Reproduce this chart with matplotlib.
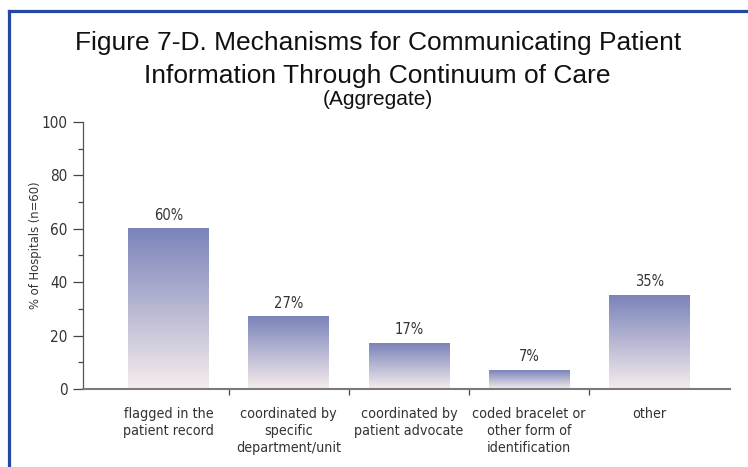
import matplotlib
matplotlib.use("Agg")
import matplotlib.pyplot as plt
import numpy as np
from matplotlib.lines import Line2D
from matplotlib.colors import LinearSegmentedColormap
from matplotlib import font_manager

categories = ["flagged in the\npatient record",
              "coordinated by\nspecific\ndepartment/unit",
              "coordinated by\npatient advocate",
              "coded bracelet or\nother form of\nidentification",
              "other"]
values = [60, 27, 17, 7, 35]
yticks = [0, 20, 40, 60, 80, 100]


def wnum(w):
    if isinstance(w, int):
        return w
    return font_manager.weight_dict.get(w, 400)


# pick a regular-weight condensed face if one is installed
cond = [f for f in font_manager.fontManager.ttflist
        if (f.stretch in ("condensed", "semi-condensed") or "Narrow" in f.name
            or "Condensed" in f.name)
        and f.style == "normal" and 300 <= wnum(f.weight) <= 400
        and "Mono" not in f.name]
cond.sort(key=lambda f: abs(wnum(f.weight) - 400))
if cond:
    narrow_fp = font_manager.FontProperties(fname=cond[0].fname)
else:
    narrow_fp = font_manager.FontProperties(family="Liberation Sans")
plain = ["Liberation Sans", "DejaVu Sans"]


def nfp(size):
    fp = narrow_fp.copy()
    fp.set_size(size)
    return fp


fig = plt.figure(figsize=(7.48, 4.67), dpi=100)
ax = fig.add_axes([0.111, 0.167, 0.865, 0.572])

x = np.arange(len(values))
bars = ax.bar(x, values, width=0.67, color="none", edgecolor="none")

# vertical gradient inside each bar
cmap = LinearSegmentedColormap.from_list("bar", ["#f5ecec", "#7b84ba"])
grad = np.linspace(0, 1, 256).reshape(-1, 1)
for b in bars:
    x0, y0 = b.get_x(), b.get_y()
    ax.imshow(grad, cmap=cmap, origin="lower", aspect="auto",
              extent=[x0, x0 + b.get_width(), y0, y0 + b.get_height()],
              zorder=2)

for xi, v in zip(x, values):
    ax.text(xi, v + 2.3, f"{v}%", ha="center", va="bottom",
            fontproperties=nfp(10.5), color="#333333")

ax.set_xlim(-0.71, 4.67)
ax.set_ylim(0, 100)

ax.set_yticks(yticks)
ax.set_yticks(np.arange(10, 100, 20), minor=True)
ax.tick_params(axis="y", which="major", length=7.2, width=0.9, color="#444444",
               labelcolor="#333333", pad=4)
ax.tick_params(axis="y", which="minor", length=3.6, width=0.9, color="#444444")
for lab in ax.get_yticklabels():
    lab.set_fontproperties(nfp(11))

ax.set_xticks(x)
ax.set_xticklabels(categories)
ax.set_xticks(x[:-1] + 0.5, minor=True)
ax.tick_params(axis="x", which="major", length=0,
               labelcolor="#333333", pad=13)
ax.tick_params(axis="x", which="minor", length=4, width=0.9, color="#444444")
for lab in ax.get_xticklabels():
    lab.set_fontproperties(nfp(10.3))
    lab.set_linespacing(1.25)

ax.set_ylabel("% of Hospitals (n=60)", fontproperties=nfp(9.3),
              color="#333333", va="center")
ax.yaxis.set_label_coords(-0.074, 0.54)

for s in ["top", "right"]:
    ax.spines[s].set_visible(False)
ax.spines["left"].set_color("#555555")
ax.spines["left"].set_linewidth(0.9)
ax.spines["bottom"].set_color("#7a7a7a")
ax.spines["bottom"].set_linewidth(1.5)

fig.text(0.505, 0.893, "Figure 7-D. Mechanisms for Communicating Patient",
         ha="center", va="baseline", fontsize=19, family=plain, color="#111111")
fig.text(0.505, 0.822, "Information Through Continuum of Care",
         ha="center", va="baseline", fontsize=19, family=plain, color="#111111")
fig.text(0.505, 0.775, "(Aggregate)", ha="center", va="baseline",
         fontsize=15, family=plain, color="#111111")

# frame on the left and top edge
fig.add_artist(Line2D([9 / 748, 9 / 748], [0, 1 - 11 / 467],
                      transform=fig.transFigure, color="#2447a0", lw=2.3))
fig.add_artist(Line2D([9 / 748, 1], [1 - 11 / 467, 1 - 11 / 467],
                      transform=fig.transFigure, color="#2447a0", lw=2.3))

fig.savefig("out.png", dpi=100)
